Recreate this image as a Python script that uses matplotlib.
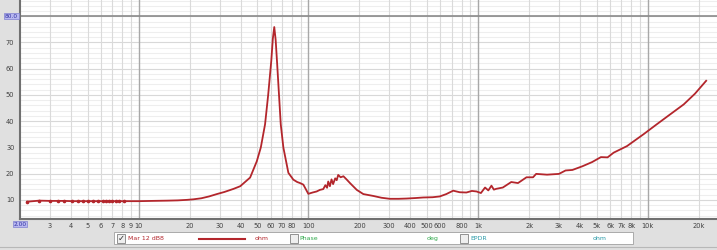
import matplotlib.pyplot as plt
import matplotlib.patches as mpatches
from matplotlib.ticker import FixedLocator, NullFormatter
import numpy as np

# impedance trace (Hz, ohm)
freq = [2.2, 2.6, 3.0, 3.35, 3.65, 4.05, 4.4, 4.7, 5.05, 5.35, 5.75, 6.15, 6.4, 6.7,
        7.0, 7.35, 7.7, 8.15, 10, 12, 14.8, 17, 19.3, 21, 23.4, 26, 28.9, 32, 36.3,
        39.7, 45.4, 49.7, 52.5, 55.6, 58, 60.5, 61.8, 63, 64.2, 65.5, 68.8, 71.3, 76.3,
        81.6, 86, 89.4, 93.5, 100, 106, 112, 117, 122.5, 126, 129, 131, 134, 137, 140,
        144, 147, 150, 155, 161, 168, 176, 193, 211, 241, 270, 302, 340, 379, 430, 475,
        540, 595, 650, 714, 780, 854, 920, 980, 1040, 1100, 1150, 1200, 1240, 1280, 1400,
        1570, 1720, 1930, 2110, 2200, 2550, 3000, 3280, 3600, 4120, 4700, 5300, 5800,
        6300, 7550, 9440, 11300, 13500, 16300, 19000, 22100]
imp = [9.3, 9.7, 9.6, 9.6, 9.6, 9.5, 9.5, 9.5, 9.5, 9.5, 9.5, 9.5, 9.5, 9.5,
       9.5, 9.5, 9.5, 9.5, 9.5, 9.6, 9.7, 9.8, 10.0, 10.2, 10.6, 11.3, 12.2, 13.0, 14.2,
       15.2, 18.5, 24.7, 30.0, 38.8, 50.0, 63.0, 71.5, 75.9, 71.0, 62.0, 38.8, 29.9, 20.3,
       17.7, 16.8, 16.4, 15.8, 12.3, 12.8, 13.2, 13.8, 14.1, 15.6, 14.6, 17.0, 15.2, 17.8,
       16.0, 18.2, 17.5, 19.5, 18.6, 19.0, 17.8, 16.4, 13.8, 12.2, 11.5, 10.8, 10.4, 10.4,
       10.5, 10.7, 10.9, 11.0, 11.3, 12.2, 13.5, 12.9, 12.8, 13.4, 13.2, 12.6, 14.7, 13.6,
       15.4, 13.9, 14.2, 14.7, 16.8, 16.4, 18.6, 18.6, 19.9, 19.6, 19.9, 21.2, 21.4, 22.8,
       24.4, 26.3, 26.2, 28.0, 30.5, 35.0, 38.8, 42.5, 46.4, 50.5, 55.4]
n_dots = 18

xtick_vals = [3, 4, 5, 6, 7, 8, 9, 10, 20, 30, 40, 50, 60, 70, 80, 100, 200, 300, 400,
              500, 600, 800, 1000, 2000, 3000, 4000, 5000, 6000, 7000, 8000, 10000, 20000]
xtick_text = ['3', '4', '5', '6', '7', '8', '9', '10', '20', '30', '40', '50', '60', '70',
              '80', '100', '200', '300', '400', '500', '600', '800', '1k', '2k', '3k', '4k',
              '5k', '6k', '7k', '8k', '10k', '20k']
ytick_vals = [10, 20, 30, 40, 50, 60, 70]

W, H = 717, 250
red = '#b3262c'
fig = plt.figure(figsize=(W / 100, H / 100), dpi=100)
fig.patch.set_facecolor('#e0e0e0')
ax = fig.add_axes([20 / W, 1 - 219 / H, 697 / W, 219 / H])
ax.set_facecolor('white')

ax.set_xscale('log')
ax.set_xlim(2.0, 25600)
ax.set_ylim(2.7, 86.2)

# horizontal grid first, then vertical lines on top
for v in np.arange(4, 87, 2):
    ax.axhline(v, color='#d8d8d8' if v % 10 == 0 else '#eeeeee', lw=0.8, zorder=0)
allv = [m * 10 ** d for d in range(0, 5) for m in range(1, 10)]
for v in allv:
    if 2 < v <= 25600:
        dec = abs(np.log10(v) - round(np.log10(v))) < 1e-9
        ax.axvline(v, color='#a8a8a8' if dec else '#dadada', lw=1.0 if dec else 0.8,
                   zorder=1 if dec else 0.5)
ax.axhline(80, color='#8a8a8a', lw=1.2, zorder=1.5)

ax.plot(freq, imp, color=red, lw=1.3, zorder=3)
ax.plot(freq[:n_dots], imp[:n_dots], ls='none', marker='o', ms=1.6, color=red, zorder=3)

ax.xaxis.set_major_locator(FixedLocator(xtick_vals))
ax.set_xticklabels(xtick_text)
ax.xaxis.set_minor_formatter(NullFormatter())
ax.tick_params(axis='x', which='both', length=0, pad=3, labelsize=4.8, colors='#404040')
ax.set_yticks(ytick_vals)
ax.tick_params(axis='y', length=0, pad=4, labelsize=4.8, colors='#404040')

for s in ['top', 'right']:
    ax.spines[s].set_visible(False)
ax.spines['left'].set_color('#707070')
ax.spines['bottom'].set_color('#707070')
ax.spines['left'].set_linewidth(1.5)
ax.spines['bottom'].set_linewidth(1.5)

def fx(px):
    return px / W

def fy(py):
    return 1 - py / H

# corner value boxes
fig.text(fx(11.5), fy(16), '80.0', fontsize=4.2, color='#3030a0', ha='center', va='center',
         bbox=dict(boxstyle='square,pad=0.15', fc='#b8b8f0', ec='#8080d0', lw=0.5))
fig.text(fx(20), fy(224), '2.00', fontsize=4.2, color='#3030a0', ha='center', va='center',
         bbox=dict(boxstyle='square,pad=0.15', fc='#b8b8f0', ec='#8080d0', lw=0.5))

# legend strip
fig.add_artist(mpatches.Rectangle((fx(114), fy(244)), (633 - 114) / W, 12 / H,
                                  transform=fig.transFigure, fc='white', ec='#a0a0a0', lw=0.6))
fig.add_artist(plt.Line2D([0, 1], [fy(247), fy(247)], transform=fig.transFigure,
                          color='#b8b8b8', lw=0.8))

def checkbox(px, checked):
    fig.add_artist(mpatches.Rectangle((fx(px), fy(243)), 8 / W, 9 / H, transform=fig.transFigure,
                                      fc='#eeeeee', ec='#808080', lw=0.6))
    if checked:
        fig.text(fx(px + 4), fy(238.5), '\u2713', fontsize=6, color='#303030',
                 ha='center', va='center')

checkbox(117, True)
fig.text(fx(128), fy(238.5), 'Mar 12 dB8', fontsize=4.5, color=red, va='center')
fig.add_artist(plt.Line2D([fx(199), fx(245)], [fy(238.5), fy(238.5)], transform=fig.transFigure,
                          color=red, lw=1.5))
fig.text(fx(262), fy(238.5), 'ohm', fontsize=4.5, color=red, va='center', ha='center')
checkbox(290, False)
fig.text(fx(299), fy(238.5), 'Phase', fontsize=4.5, color='#2ea84a', va='center')
fig.text(fx(433), fy(238.5), 'deg', fontsize=4.5, color='#2ea84a', va='center', ha='center')
checkbox(460, False)
fig.text(fx(470), fy(238.5), 'EPDR', fontsize=4.5, color='#2a9aa8', va='center')
fig.text(fx(600), fy(238.5), 'ohm', fontsize=4.5, color='#2a9aa8', va='center', ha='center')

fig.savefig('out.png', dpi=100, facecolor=fig.get_facecolor())
